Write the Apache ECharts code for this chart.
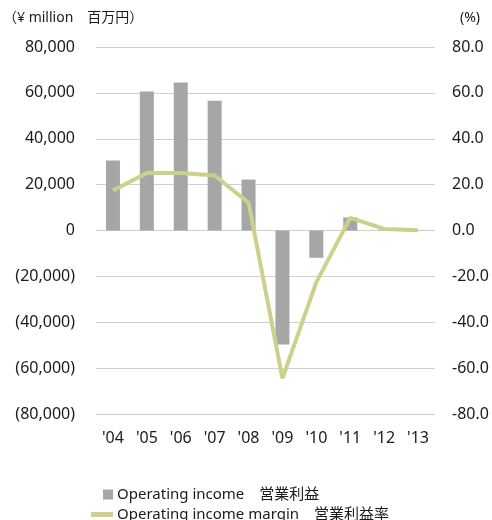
<!DOCTYPE html>
<html>
<head>
<meta charset="utf-8">
<script src="https://cdn.jsdelivr.net/npm/echarts@6/dist/echarts.min.js"></script>
<style>
  html, body { margin: 0; padding: 0; background: #fff; }
  #chart { width: 492px; height: 520px; }
</style>
</head>
<body>
<div id="chart"></div>
<script>
// 年度
const years = ["'04", "'05", "'06", "'07", "'08", "'09", "'10", "'11", "'12", "'13"]
// 営業利益 (百万円)
const operatingIncome = [30500, 60600, 64500, 56600, 22200, -49700, -11900, 5700, 300, 100]
// 営業利益率 (%)
const operatingMargin = [17.4, 25.1, 25.1, 24.0, 12.1, -64.5, -22.5, 5.5, 0.7, 0.1]

const incomeName = 'Operating income　営業利益'
const marginName = 'Operating income margin　営業利益率'

const font = '"Noto Sans", "Noto Sans CJK JP", sans-serif'
const textColor = '#1a1a1a'

const chart = echarts.init(document.getElementById('chart'))

const fmtYen = (v) => {
  const s = Math.abs(v).toLocaleString('en-US')
  return v < 0 ? '(' + s + ')' : s
}

chart.setOption({
  backgroundColor: '#fff',
  textStyle: { fontFamily: font, color: textColor },
  grid: { left: 96, right: 57, top: 47, bottom: 106 },
  legend: [
    {
      data: [incomeName],
      left: 103,
      top: 487,
      padding: 0,
      icon: 'rect',
      itemWidth: 10,
      itemHeight: 10,
      itemGap: 4,
      textStyle: { fontFamily: font, fontSize: 15, color: textColor, padding: [0, 0, 0, -1] }
    },
    {
      data: [marginName],
      left: 91,
      top: 507,
      padding: 0,
      icon: 'rect',
      itemWidth: 22,
      itemHeight: 5,
      itemGap: 4,
      textStyle: { fontFamily: font, fontSize: 15, color: textColor, padding: [0, 0, 0, -1] }
    }
  ],
  xAxis: {
    type: 'category',
    data: years,
    axisLine: { show: false },
    axisTick: { show: false },
    axisLabel: { color: textColor, fontSize: 16, margin: 16, fontFamily: font }
  },
  yAxis: [
    {
      type: 'value',
      min: -80000,
      max: 80000,
      interval: 20000,
      name: '（¥ million　百万円）',
      nameLocation: 'end',
      nameGap: 22,
      nameTextStyle: { color: textColor, fontSize: 14, align: 'left', padding: [0, 0, 0, -93], fontFamily: font },
      axisLine: { show: false },
      axisTick: { show: false },
      axisLabel: { color: textColor, fontSize: 16, margin: 21, formatter: fmtYen, fontFamily: font },
      splitLine: { lineStyle: { color: '#d0d0d0', width: 1 } }
    },
    {
      type: 'value',
      min: -80,
      max: 80,
      interval: 20,
      name: '(%)',
      nameLocation: 'end',
      nameGap: 22,
      nameTextStyle: { color: textColor, fontSize: 14, align: 'left', padding: [0, 0, 0, 25], fontFamily: font },
      axisLine: { show: false },
      axisTick: { show: false },
      axisLabel: { color: textColor, fontSize: 16, margin: 17, formatter: (v) => v.toFixed(1), fontFamily: font },
      splitLine: { show: false }
    }
  ],
  series: [
    {
      name: incomeName,
      type: 'bar',
      data: operatingIncome,
      barWidth: 14,
      itemStyle: { color: '#a6a6a6' }
    },
    {
      name: marginName,
      type: 'line',
      yAxisIndex: 1,
      data: operatingMargin,
      showSymbol: false,
      symbol: 'none',
      lineStyle: { color: '#cdd08c', width: 4 },
      itemStyle: { color: '#cdd08c' }
    }
  ]
})
</script>
</body>
</html>
